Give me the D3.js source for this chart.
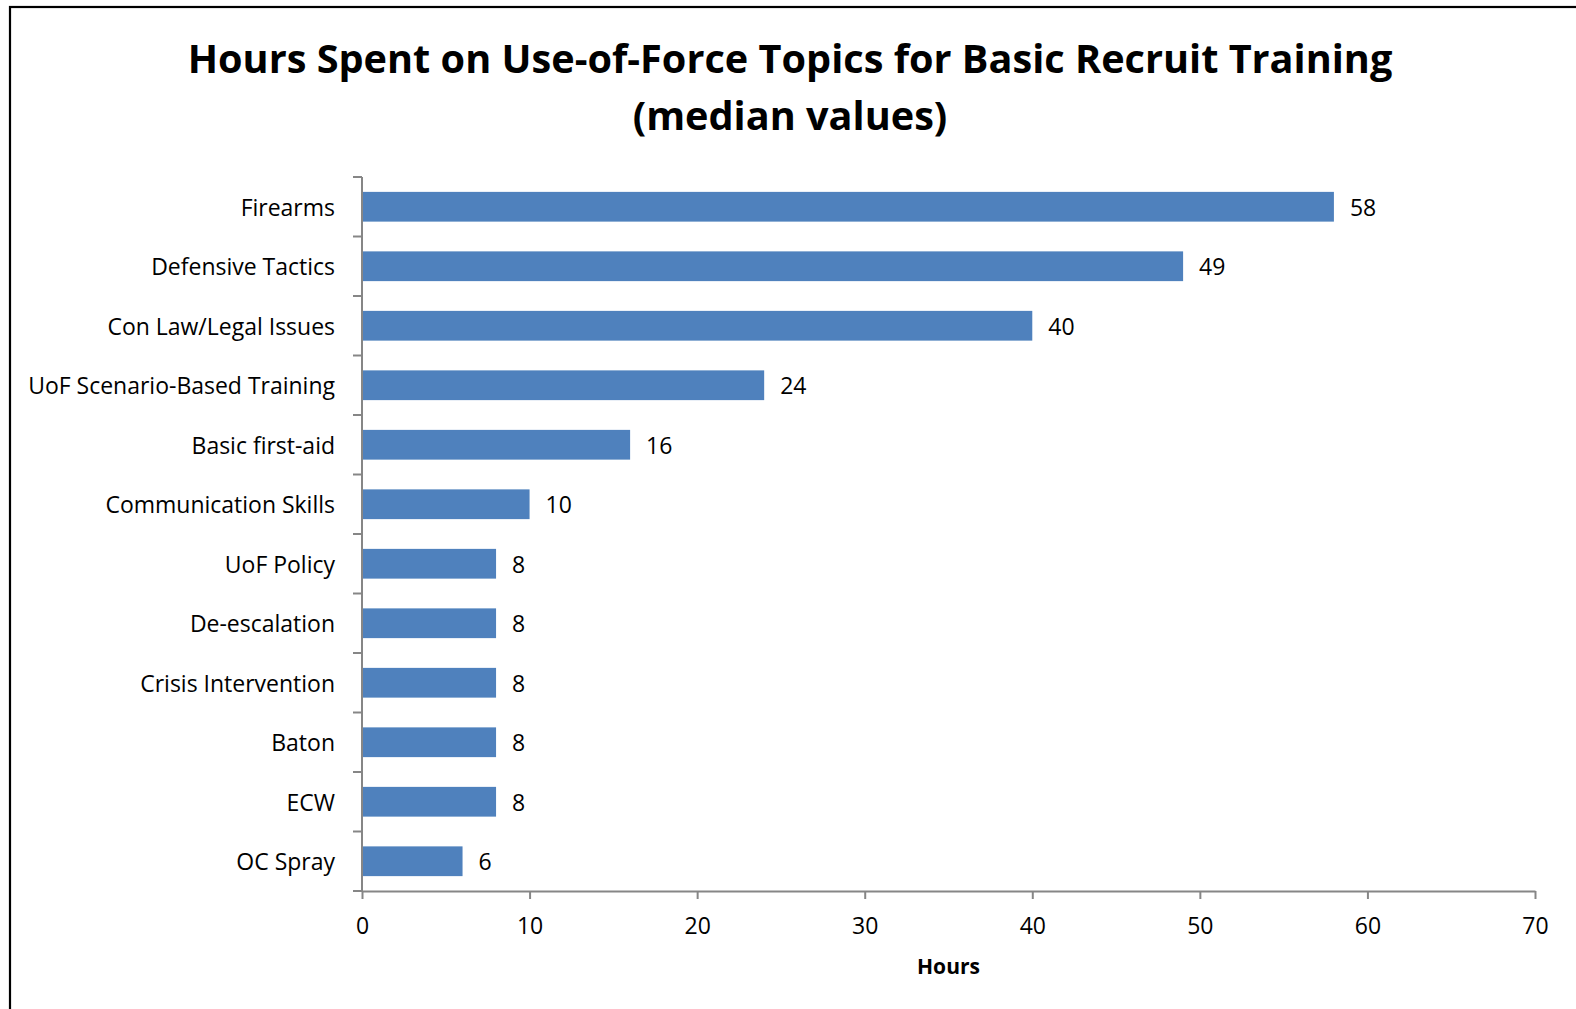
<!DOCTYPE html>
<html>
<head>
<meta charset="utf-8">
<script src="https://cdn.jsdelivr.net/npm/d3@7"></script>
<style>
  html, body { margin: 0; padding: 0; background: #fff; overflow: hidden; }
  svg { display: block; font-family: "Open Sans", sans-serif; }
</style>
</head>
<body>
<svg id="chart" width="1576" height="1009"></svg>
<script>
// chart data
const categories = ["Firearms", "Defensive Tactics", "Con Law/Legal Issues", "UoF Scenario-Based Training",
  "Basic first-aid", "Communication Skills", "UoF Policy", "De-escalation", "Crisis Intervention",
  "Baton", "ECW", "OC Spray"];
const hours = [58, 49, 40, 24, 16, 10, 8, 8, 8, 8, 8, 6];
const x_ticks = [0, 10, 20, 30, 40, 50, 60, 70];
const title_lines = ["Hours Spent on Use-of-Force Topics for Basic Recruit Training", "(median values)"];
const x_title = "Hours";

const width = 1576, height = 1009;
const plot = { left: 362, right: 1535, top: 177, bottom: 891 };
const axis_color = "#868686";
const bar_color = "#4F81BD";

let svg = d3.select("#chart");

// frame around the chart (right and bottom edges fall outside the picture)
svg.append("rect")
  .attr("x", 10).attr("y", 7)
  .attr("width", width + 20).attr("height", height + 20)
  .attr("fill", "none").attr("stroke", "#000").attr("stroke-width", 2.2);

// font size that makes the text fill the given width
function fit_size(text, target, weight) {
  let t = svg.append("text").text(text).style("font-size", "20px").style("font-weight", weight);
  let w = t.node().getComputedTextLength();
  t.remove();
  return 20 * target / w;
}

let label_size = fit_size("UoF Scenario-Based Training", 307, "normal");
let title_size = fit_size(title_lines[0], 1205, "bold");
let x_title_size = fit_size(x_title, 63, "bold");

let x = d3.scaleLinear().domain([0, 70]).range([plot.left, plot.right]);
let y = d3.scaleBand().domain(categories).range([plot.top, plot.bottom]).paddingInner(0.5).paddingOuter(0.25);

// title
svg.append("text")
  .attr("x", 790).attr("y", 73)
  .attr("text-anchor", "middle")
  .style("font-size", `${title_size}px`).style("font-weight", "bold")
  .text(title_lines[0]);
svg.append("text")
  .attr("x", 790).attr("y", 130)
  .attr("text-anchor", "middle")
  .style("font-size", `${title_size}px`).style("font-weight", "bold")
  .text(title_lines[1]);

// bars
svg.selectAll("rect.bar")
  .data(hours)
  .enter()
  .append("rect")
  .attr("class", "bar")
  .attr("x", x(0))
  .attr("y", (d, i) => y(categories[i]))
  .attr("width", (d) => x(d) - x(0))
  .attr("height", y.bandwidth())
  .attr("fill", bar_color);

// value labels
svg.selectAll("text.value")
  .data(hours)
  .enter()
  .append("text")
  .attr("class", "value")
  .attr("x", (d) => x(d) + 16)
  .attr("y", (d, i) => y(categories[i]) + y.bandwidth() / 2)
  .attr("dy", "0.4em")
  .style("font-size", `${label_size}px`)
  .text((d) => d);

// x axis
let x_axis = svg.append("g")
  .attr("transform", `translate(0,${plot.bottom})`)
  .call(d3.axisBottom(x).tickValues(x_ticks).tickSize(8).tickSizeOuter(0).tickPadding(19));
x_axis.select(".domain").attr("stroke", axis_color).attr("stroke-width", 2);
x_axis.selectAll(".tick line").attr("stroke", axis_color).attr("stroke-width", 2);
x_axis.selectAll(".tick text")
  .attr("fill", "#000")
  .style("font-size", `${label_size}px`)
  .style("font-family", "'Open Sans', sans-serif");

// y axis: ticks sit between categories, like the original
let boundaries = categories.map((c) => y(c) - y.step() * y.paddingInner() / 2);
boundaries.push(plot.bottom);
let y_axis = svg.append("g");
y_axis.append("line")
  .attr("x1", plot.left).attr("x2", plot.left)
  .attr("y1", plot.top).attr("y2", plot.bottom)
  .attr("stroke", axis_color).attr("stroke-width", 2);
y_axis.selectAll("line.tick")
  .data(boundaries)
  .enter()
  .append("line")
  .attr("class", "tick")
  .attr("x1", plot.left - 9).attr("x2", plot.left)
  .attr("y1", (d) => d).attr("y2", (d) => d)
  .attr("stroke", axis_color).attr("stroke-width", 2);
y_axis.selectAll("text")
  .data(categories)
  .enter()
  .append("text")
  .attr("x", 335)
  .attr("y", (d) => y(d) + y.bandwidth() / 2)
  .attr("dy", "0.4em")
  .attr("text-anchor", "end")
  .style("font-size", `${label_size}px`)
  .text((d) => d);

// x axis title
svg.append("text")
  .attr("x", (plot.left + plot.right) / 2)
  .attr("y", 974)
  .attr("text-anchor", "middle")
  .style("font-size", `${x_title_size}px`).style("font-weight", "bold")
  .text(x_title);
</script>
</body>
</html>
